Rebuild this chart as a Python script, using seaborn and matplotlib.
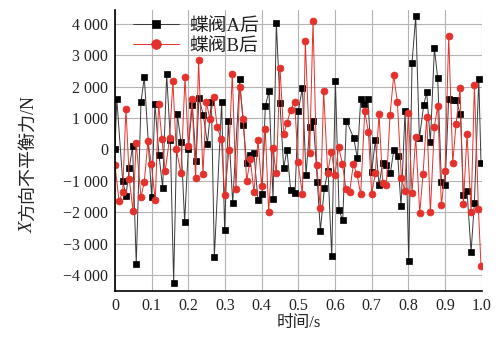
import numpy as np
import pandas as pd
import matplotlib
matplotlib.use("Agg")
import matplotlib.pyplot as plt
from matplotlib.font_manager import FontProperties
import seaborn as sns

# Unbalanced force in X direction behind butterfly valve A (time s, force N)
t_a = [0.000, 0.005, 0.021, 0.030, 0.039, 0.048, 0.058, 0.071, 0.080, 0.100,
       0.109, 0.120, 0.130, 0.141, 0.151, 0.160, 0.170, 0.180, 0.190, 0.200,
       0.211, 0.221, 0.229, 0.241, 0.252, 0.263, 0.271, 0.291, 0.299, 0.309,
       0.321, 0.340, 0.350, 0.359, 0.369, 0.379, 0.390, 0.401, 0.410, 0.420,
       0.431, 0.440, 0.450, 0.460, 0.469, 0.479, 0.491, 0.500, 0.511, 0.521,
       0.531, 0.541, 0.552, 0.560, 0.571, 0.581, 0.591, 0.601, 0.611, 0.621,
       0.631, 0.651, 0.661, 0.670, 0.680, 0.690, 0.700, 0.710, 0.720, 0.730,
       0.740, 0.751, 0.760, 0.771, 0.780, 0.791, 0.801, 0.810, 0.820, 0.830,
       0.842, 0.850, 0.860, 0.871, 0.880, 0.890, 0.900, 0.910, 0.921, 0.930,
       0.942, 0.950, 0.960, 0.971, 0.980, 0.992, 0.998]
force_a = [0, 1610, -990, -1470, -600, 110, -3640, 1510, 2300, -1510,
           1450, -170, -1210, 2390, 300, -4230, 1120, 240, -2300, 30,
           1420, -380, 1640, 1090, 190, 1510, -3410, 1510, -2570, 900,
           -1700, 2230, 790, -420, -190, -120, -1620, -1420, 1380, 1850,
           -1590, 4010, 1470, -590, -10, -1290, -1380, 1230, 1960, -800,
           700, 910, -1040, -2580, -1230, -670, -3400, 2190, -1930, -2250,
           920, 360, -280, 1590, 1450, 1590, -700, 290, -1140, -420,
           -480, -750, -30, -210, -1810, 1230, -3540, 2760, 4230, 360,
           1420, 1820, 230, 3220, 2260, -1030, -1140, 1620, 1570, 1570,
           1120, -1450, -1330, -3260, -1690, 2250, -420]

# Unbalanced force in X direction behind butterfly valve B (time s, force N)
t_b = [0.000, 0.011, 0.021, 0.030, 0.039, 0.049, 0.058, 0.071, 0.080, 0.090,
       0.099, 0.110, 0.119, 0.128, 0.137, 0.149, 0.158, 0.167, 0.180, 0.191,
       0.200, 0.210, 0.220, 0.228, 0.240, 0.249, 0.259, 0.269, 0.279, 0.290,
       0.299, 0.311, 0.320, 0.330, 0.340, 0.350, 0.359, 0.369, 0.379, 0.390,
       0.400, 0.410, 0.419, 0.430, 0.440, 0.450, 0.460, 0.469, 0.479, 0.490,
       0.499, 0.511, 0.519, 0.531, 0.540, 0.550, 0.560, 0.569, 0.580, 0.590,
       0.600, 0.610, 0.620, 0.630, 0.640, 0.650, 0.660, 0.670, 0.681, 0.691,
       0.700, 0.710, 0.720, 0.730, 0.740, 0.750, 0.760, 0.770, 0.781, 0.790,
       0.800, 0.810, 0.820, 0.831, 0.840, 0.850, 0.860, 0.871, 0.880, 0.890,
       0.900, 0.910, 0.921, 0.930, 0.941, 0.950, 0.960, 0.971, 0.980, 0.991,
       0.998]
force_b = [-490, -1640, -1360, 1300, -930, -1940, 210, -1520, -1020, 270,
           -450, -1620, 1450, 340, -690, 370, 2170, 20, -760, 2300,
           110, 1590, -920, 2840, -790, 1510, 960, 1680, 700, 320,
           -1440, -20, 2410, -1270, 2000, 980, -1010, -300, -1360, 300,
           -1170, 640, -1980, 40, -760, 2600, 500, 830, 1270, 1510,
           -410, -1410, 3440, -120, 4090, -490, -1870, 1860, -740, -80,
           -820, 80, -450, -1250, -1340, -460, -790, -1430, 1210, 570,
           -1410, -760, 1140, -1070, -1120, 1090, 2360, 1510, -900, -1310,
           1150, -1380, 400, -2020, -780, 1040, -1980, 730, 1380, -1770,
           -690, 3610, -420, 810, 1940, -1740, 490, -1990, 2050, -1880,
           -3690]

series_names = ["蝶阀A后", "蝶阀B后"]
x_ticks = [0, 0.1, 0.2, 0.3, 0.4, 0.5, 0.6, 0.7, 0.8, 0.9, 1.0]
x_tick_labels = ["0", "0.1", "0.2", "0.3", "0.4", "0.5", "0.6", "0.7", "0.8", "0.9", "1.0"]
y_ticks = [-4000, -3000, -2000, -1000, 0, 1000, 2000, 3000, 4000]
y_tick_labels = ["\u22124 000", "\u22123 000", "\u22122 000", "\u22121 000", "0",
                 "1 000", "2 000", "3 000", "4 000"]

sns.set_style("white")
serif_cjk = ["Liberation Serif", "Noto Sans CJK SC"]
plt.rcParams["font.family"] = serif_cjk
plt.rcParams["axes.unicode_minus"] = True

df_a = pd.DataFrame({"t": t_a, "F": force_a})
df_b = pd.DataFrame({"t": t_b, "F": force_b})

fig = plt.figure(figsize=(5.02, 3.38), dpi=100)
ax = fig.add_axes([0.229, 0.139, 0.7306, 0.830])

sns.lineplot(data=df_a, x="t", y="F", ax=ax, estimator=None, sort=False,
             color="#3a3a3a", linewidth=0.7, marker="s", markersize=4.3,
             markerfacecolor="black", markeredgecolor="black",
             markeredgewidth=0.5, label=series_names[0])
sns.lineplot(data=df_b, x="t", y="F", ax=ax, estimator=None, sort=False,
             color="#e5312c", linewidth=0.7, marker="o", markersize=5.0,
             markerfacecolor="#e5312c", markeredgecolor="#e5312c",
             markeredgewidth=0.5, label=series_names[1])

ax.set_xlim(0, 1.0)
ax.set_ylim(-4500, 4420)
ax.set_xticks(x_ticks)
ax.set_xticklabels(x_tick_labels)
ax.set_yticks(y_ticks)
ax.set_yticklabels(y_tick_labels)

ax.grid(True, color="#b4b4b4", linewidth=0.8)
ax.set_axisbelow(True)
for side in ["top", "right"]:
    ax.spines[side].set_visible(False)
for side in ["left", "bottom"]:
    ax.spines[side].set_color("black")
    ax.spines[side].set_linewidth(1.2)

ax.tick_params(axis="both", direction="in", length=4, width=1.0,
               color="black", labelsize=11.5, labelcolor="#222222", pad=5)

ax.set_xlabel("时间/s", fontsize=12, labelpad=1, color="#222222")
ax.set_ylabel("")

# y-axis title: italic X followed by the Chinese text, stacked along the axis
x_part = fig.text(0.056, 0.312, "X", rotation=90, ha="center", va="bottom",
                  fontsize=13.5, fontstyle="italic", family="Liberation Serif",
                  color="#222222")
ax.annotate("方向不平衡力/N", xy=(0.5, 1.0), xycoords=x_part,
            rotation=90, ha="center", va="bottom", fontsize=13,
            family=serif_cjk, color="#222222", annotation_clip=False)

leg = ax.legend(loc="upper left", bbox_to_anchor=(0.048, 0.975),
                frameon=False, borderaxespad=0, borderpad=0,
                handlelength=2.5, handletextpad=0.5, labelspacing=0.15,
                markerscale=1.4, prop=FontProperties(family=serif_cjk, size=13.5))
for txt in leg.get_texts():
    txt.set_color("#222222")

fig.savefig("out.png", dpi=100)
